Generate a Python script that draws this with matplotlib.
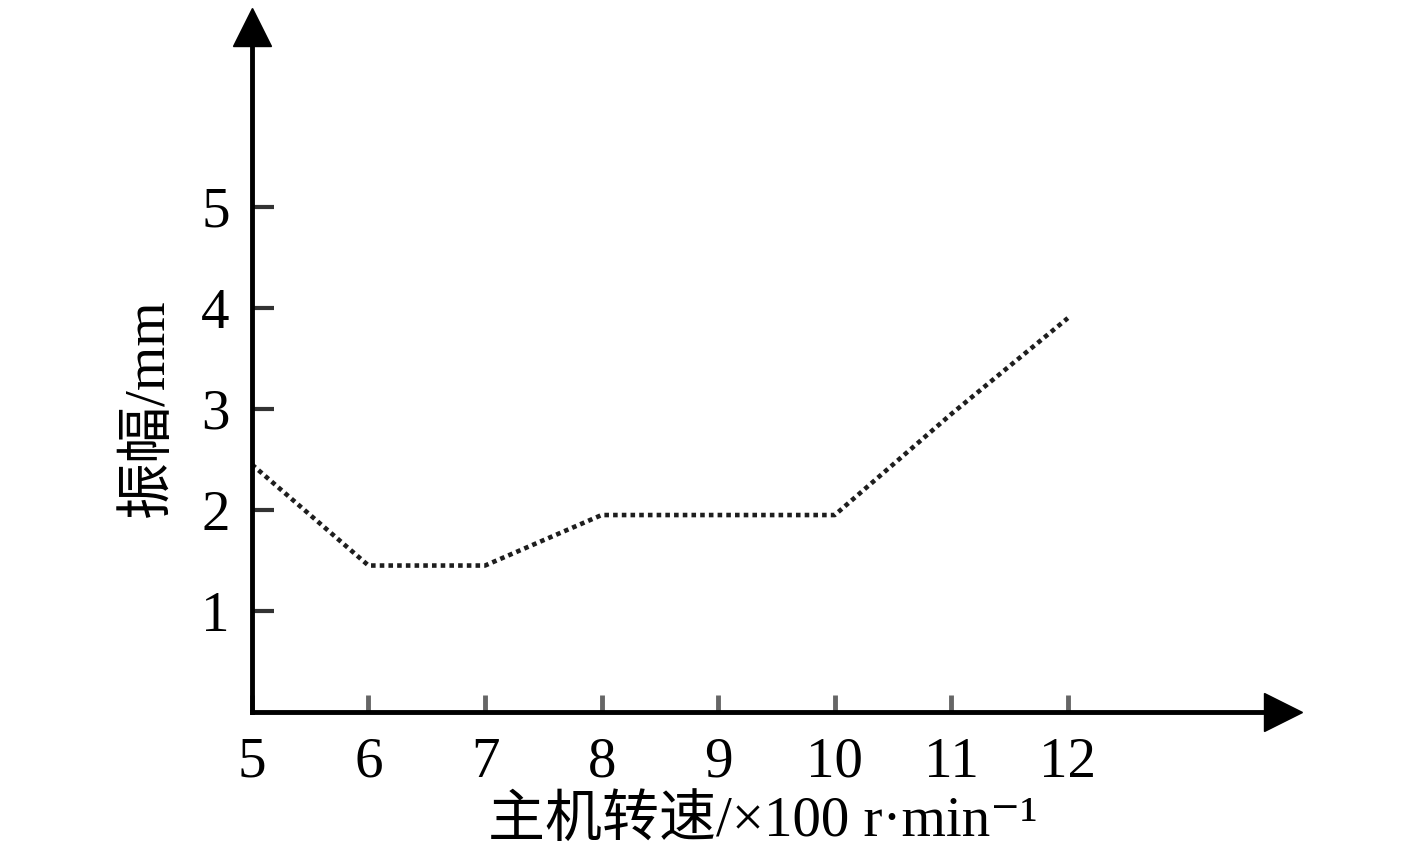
import matplotlib
matplotlib.use('Agg')
import matplotlib.pyplot as plt

# data
speed = [5, 6, 7, 8, 9, 10, 11, 12]
amplitude = [2.45, 1.45, 1.45, 1.95, 1.95, 1.95, 2.95, 3.9]
x_ticks = [5, 6, 7, 8, 9, 10, 11, 12]
y_ticks = [1, 2, 3, 4, 5]

fonts = ['Liberation Serif', 'Noto Sans CJK SC', 'DejaVu Serif']
plt.rcParams['font.family'] = fonts

fig = plt.figure(figsize=(14.17, 8.63), dpi=100)
ax = fig.add_axes([0.1778, 0.175, 0.7403, 0.8192])

ax.plot(speed, amplitude, color='#1e1e1e', lw=3.3,
        linestyle=(0, (1, 0.9)), dash_capstyle='butt', clip_on=False)

ax.set_xlim(5, 14)
ax.set_ylim(0, 7)

for s in ['top', 'right']:
    ax.spines[s].set_visible(False)
for s in ['left', 'bottom']:
    ax.spines[s].set_linewidth(3.5)
    ax.spines[s].set_color('black')
ax.spines['left'].set_bounds(0, 6.7)
ax.spines['bottom'].set_bounds(5, 13.8)

# arrow heads at axis ends
ax.plot([13.85], [0], marker='>', ms=27, color='black', clip_on=False)
ax.plot([5], [6.78], marker='^', ms=27, color='black', clip_on=False)

ax.set_xticks(x_ticks)
ax.set_yticks(y_ticks)
ax.set_xticklabels([str(v) for v in x_ticks])
ax.set_yticklabels([str(v) for v in y_ticks])
ax.tick_params(axis='x', direction='in', length=12, width=3.5, color='#666666',
               labelsize=41, pad=18)
ax.tick_params(axis='y', direction='in', length=16, width=3, color='#333333',
               labelsize=41, pad=16)

ax.set_xlabel('主机转速/×100 r·min⁻¹', fontsize=41, family=fonts)
ax.xaxis.set_label_coords(0.487, -0.118)
ax.set_ylabel('振幅/mm', fontsize=41, family=fonts)
ax.yaxis.set_label_coords(-0.073, 0.43)

fig.savefig('out.png', dpi=100)
